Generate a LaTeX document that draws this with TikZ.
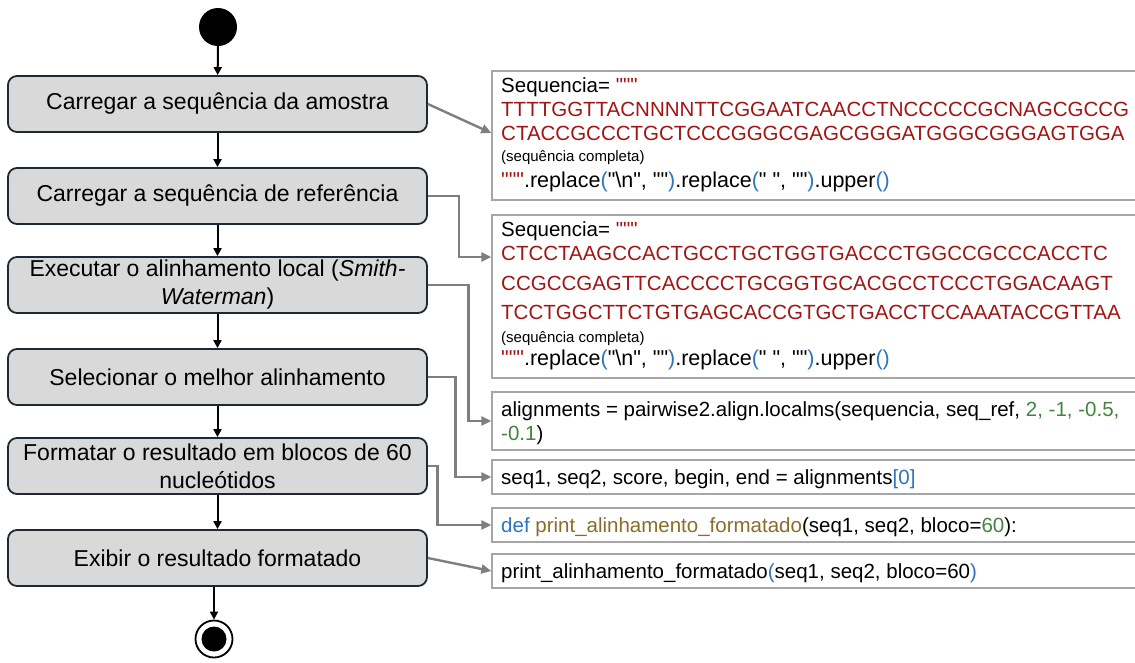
\documentclass[tikz,border=0pt]{standalone}
\usepackage{fontspec}
\setmainfont{Liberation Sans}[Ligatures=TeXOff]
\usetikzlibrary{arrows.meta}
\definecolor{boxfill}{HTML}{D9D9D9}
\definecolor{boxline}{HTML}{1E2A33}
\definecolor{codeline}{HTML}{A6A6A6}
\definecolor{connc}{HTML}{7F7F7F}
\definecolor{cred}{HTML}{A31515}
\definecolor{cblue}{HTML}{2F74C0}
\definecolor{cgreen}{HTML}{43853D}
\definecolor{cbrown}{HTML}{8A6D2B}
\newcommand{\bl}[1]{\textcolor{cblue}{#1}}
\newcommand{\rd}[1]{\textcolor{cred}{#1}}
\newcommand{\gr}[1]{\textcolor{cgreen}{#1}}
\newcommand{\br}[1]{\textcolor{cbrown}{#1}}
\tikzset{
  stepbox/.style={draw=boxline, fill=boxfill, rounded corners=9pt, line width=1.8pt,
    minimum width=419pt, minimum height=56pt, align=center, inner sep=0pt,
    font=\fontsize{23}{28}\selectfont},
  codebox/.style={draw=codeline, fill=white, line width=1.3pt, minimum width=648pt, inner sep=0pt},
  codetxt/.style={anchor=base west, inner sep=0pt, font=\fontsize{20.5}{24}\selectfont},
  repltxt/.style={anchor=base west, inner sep=0pt, font=\fontsize{21.5}{24}\selectfont},
  smalltxt/.style={anchor=base west, inner sep=0pt, font=\fontsize{15}{17}\selectfont},
  flow/.style={draw=black, line width=2pt, -{Triangle[length=8pt,width=8pt]}},
  conn/.style={draw=connc, line width=2.4pt, -{Triangle[length=10pt,width=9pt]}},
}
\begin{document}
\begin{tikzpicture}[x=1pt,y=-1pt]
\fill[white] (0,0) rectangle (1135,662);
\useasboundingbox (0,0) rectangle (1135,662);
\clip (0,0) rectangle (1135,662);
% start / end
\node[circle, fill=black, minimum size=38pt, inner sep=0pt] (st) at (218,27) {};
\node[circle, draw=black, line width=1.8pt, fill=white, minimum size=37pt, inner sep=0pt] (en) at (214,639) {};
\node[circle, fill=black, minimum size=25pt, inner sep=0pt] (enin) at (214,639) {};
% steps
\node[stepbox] (s1) at (217.5,104) {Carregar a sequência da amostra};
\node[stepbox] (s2) at (217.5,196) {Carregar a sequência de referência};
\node[stepbox] (s3) at (217.5,285) {Executar o alinhamento local (\textit{Smith-}\\\textit{Waterman})};
\node[stepbox] (s4) at (217.5,377) {Selecionar o melhor alinhamento};
\node[stepbox] (s5) at (217.5,466) {Formatar o resultado em blocos de 60\\nucleótidos};
\node[stepbox] (s6) at (217.5,558) {Exibir o resultado formatado};
\draw[flow] (st) -- (s1);
\draw[flow] (s1) -- (s2);
\draw[flow] (s2) -- (s3);
\draw[flow] (s3) -- (s4);
\draw[flow] (s4) -- (s5);
\draw[flow] (s5) -- (s6);
\draw[flow] (s6.south -| en) -- (en);
% code boxes
\node[codebox, minimum height=129pt] (cA) at (816,135.5) {};
\node[codebox, minimum height=163pt] (cB) at (816,296.5) {};
\node[codebox, minimum height=58pt] (cC) at (816,421) {};
\node[codebox, minimum height=34pt] (cD) at (816,477) {};
\node[codebox, minimum height=34pt] (cE) at (816,525) {};
\node[codebox, minimum height=34pt] (cF) at (816,571) {};
% code text A
\node[codetxt] (a1) at (501,92) {Sequencia= \rd{"""}};
\node[codetxt, text=cred] (a2) at (501,116) {TTTTGGTTACNNNNTTCGGAATCAACCTNCCCCCGCNAGCGCCG};
\node[codetxt, text=cred] (a3) at (501,140) {CTACCGCCCTGCTCCCGGGCGAGCGGGATGGGCGGGAGTGGA};
\node[smalltxt] (a4) at (501,161) {(sequência completa)};
\node[repltxt] (a5) at (501,187) {\rd{"""}.replace\bl{(}"\textbackslash n", ""\bl{)}.replace\bl{(}" ", ""\bl{)}.upper\bl{()}};
% code text B
\node[codetxt] (b1) at (501,236) {Sequencia= \rd{"""}};
\node[codetxt, text=cred] (b2) at (501,260) {CTCCTAAGCCACTGCCTGCTGGTGACCCTGGCCGCCCACCTC};
\node[codetxt, text=cred] (b3) at (501,290) {CCGCCGAGTTCACCCCTGCGGTGCACGCCTCCCTGGACAAGT};
\node[codetxt, text=cred] (b4) at (501,319) {TCCTGGCTTCTGTGAGCACCGTGCTGACCTCCAAATACCGTTAA};
\node[smalltxt] (b5) at (501,342) {(sequência completa)};
\node[repltxt] (b6) at (501,365) {\rd{"""}.replace\bl{(}"\textbackslash n", ""\bl{)}.replace\bl{(}" ", ""\bl{)}.upper\bl{()}};
% code text C-F
\node[codetxt] (c1) at (501,416) {alignments = pairwise2.align.localms(sequencia, seq\_ref, \gr{2, -1, -0.5,}};
\node[codetxt] (c2) at (501,440) {\gr{-0.1})};
\node[codetxt] (d1) at (501,484) {seq1, seq2, score, begin, end = alignments\bl{[}\bl{0}\bl{]}};
\node[codetxt] (e1) at (501,532) {\bl{def} \br{print\_alinhamento\_formatado}(seq1, seq2, bloco=\gr{60}):};
\node[codetxt] (f1) at (501,578) {print\_alinhamento\_formatado\bl{(}seq1, seq2, bloco=60\bl{)}};
% connectors
\draw[conn] (s1.east) -- ([yshift=2.5pt]cA.west);
\draw[conn] (s2.east) -| ++(31,61) -- (cB.west |- 0,257);
\draw[conn] (s3.east) -| ([xshift=-23pt]cC.west) -- (cC.west);
\draw[conn] (s4.east) -| ([xshift=-36pt]cD.west) -- (cD.west);
\draw[conn] (s5.east) -| ([xshift=-54pt]cE.west) -- (cE.west);
\draw[conn] (s6.east) -- (cF.west);
\end{tikzpicture}
\end{document}
